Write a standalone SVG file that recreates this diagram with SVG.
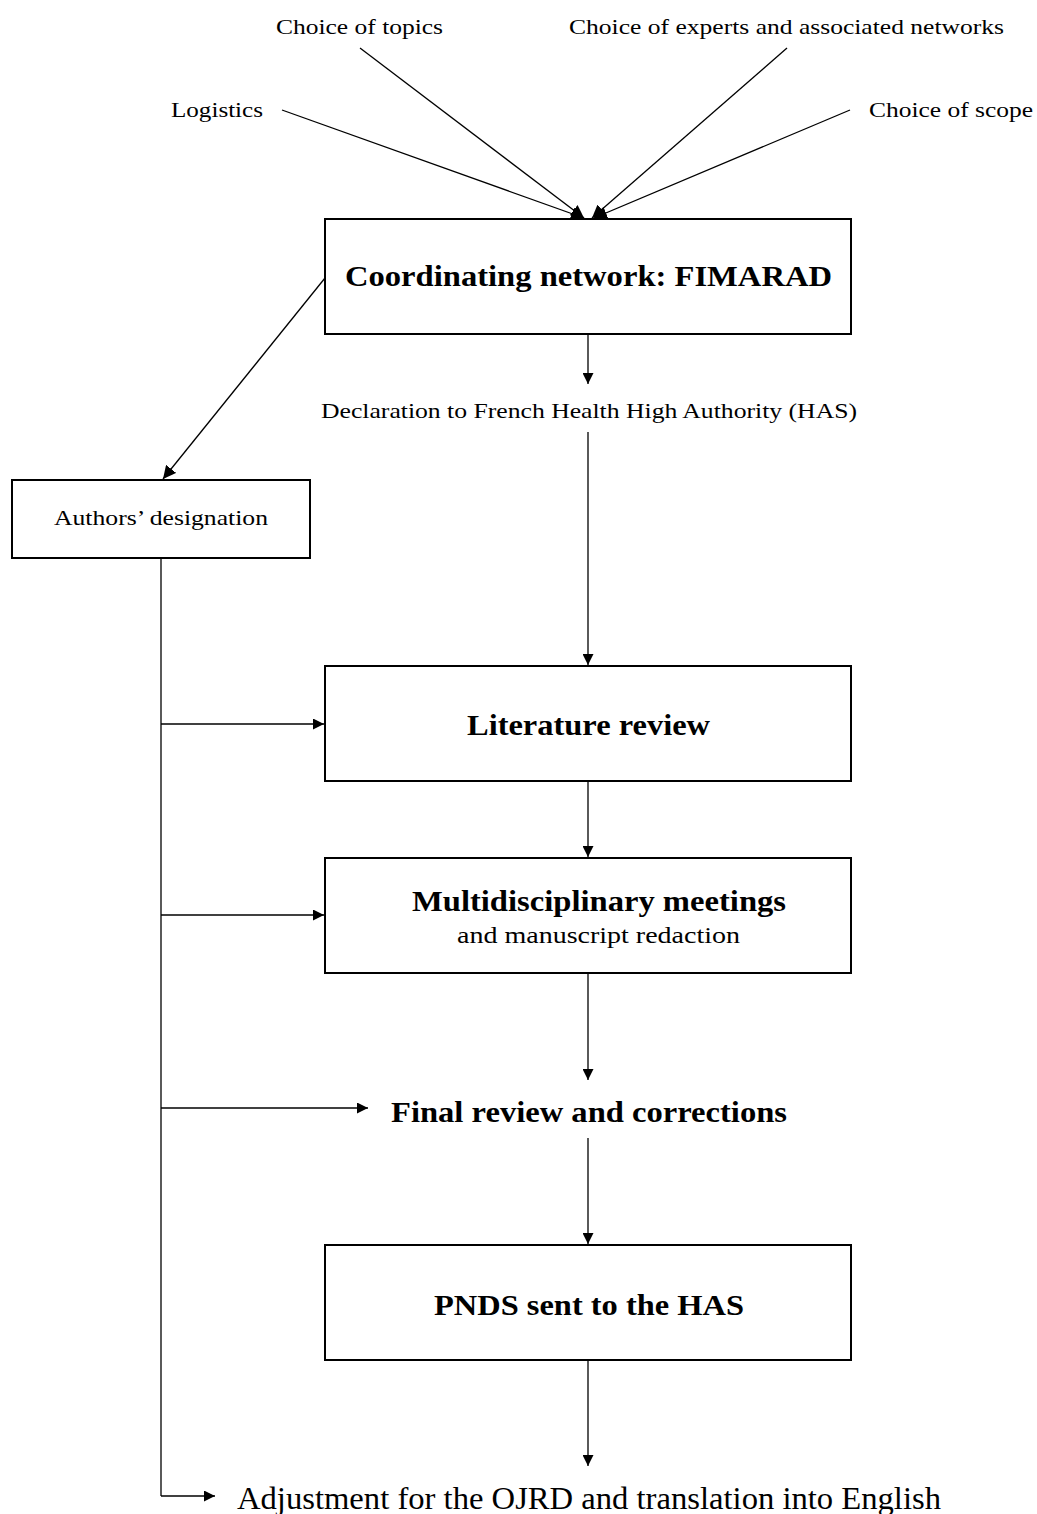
<svg xmlns="http://www.w3.org/2000/svg" width="1037" height="1514" viewBox="0 0 1037 1514">
<style>
.box{fill:#fff;stroke:#000;stroke-width:2}
.t{font-family:"Liberation Serif","Times New Roman",serif;fill:#000;text-anchor:middle}
.b{font-weight:bold;font-size:30px}
.s{font-size:22px}
.c line, .c polyline{stroke:#000;stroke-width:1.3;fill:none}
</style>
<defs>
<marker id="ah" viewBox="0 0 10 10" refX="10" refY="5" markerWidth="11" markerHeight="11" markerUnits="userSpaceOnUse" orient="auto">
<path d="M0,0 L10,5 L0,10 z" fill="#000"/>
</marker>
<marker id="ahL" viewBox="0 0 12 12" refX="12" refY="6" markerWidth="13" markerHeight="13" markerUnits="userSpaceOnUse" orient="auto">
<path d="M0,0 L12,6 L0,12 z" fill="#000"/>
</marker>
</defs>
<g id="lbl-topics"><text class="t s" x="359.5" y="34" textLength="167" lengthAdjust="spacingAndGlyphs">Choice of topics</text></g>
<g id="lbl-experts"><text class="t s" x="786.5" y="34" textLength="435" lengthAdjust="spacingAndGlyphs">Choice of experts and associated networks</text></g>
<g id="lbl-logistics"><text class="t s" x="217" y="117" textLength="92" lengthAdjust="spacingAndGlyphs">Logistics</text></g>
<g id="lbl-scope"><text class="t s" x="951" y="117" textLength="164" lengthAdjust="spacingAndGlyphs">Choice of scope</text></g>
<g class="c" id="connectors">
<line x1="360" y1="48" x2="584" y2="218" marker-end="url(#ahL)"/>
<line x1="282" y1="110" x2="584" y2="218" marker-end="url(#ahL)"/>
<line x1="787" y1="48" x2="592" y2="218" marker-end="url(#ahL)"/>
<line x1="850" y1="110" x2="594" y2="218" marker-end="url(#ahL)"/>
<line x1="588" y1="335" x2="588" y2="384" marker-end="url(#ah)"/>
<line x1="588" y1="432" x2="588" y2="665" marker-end="url(#ah)"/>
<line x1="325" y1="278" x2="163" y2="479" marker-end="url(#ahL)"/>
<line x1="588" y1="781" x2="588" y2="857" marker-end="url(#ah)"/>
<line x1="588" y1="974" x2="588" y2="1080" marker-end="url(#ah)"/>
<line x1="588" y1="1138" x2="588" y2="1244" marker-end="url(#ah)"/>
<line x1="588" y1="1361" x2="588" y2="1466" marker-end="url(#ah)"/>
<line x1="161" y1="559" x2="161" y2="1496"/>
<line x1="161" y1="724" x2="324" y2="724" marker-end="url(#ah)"/>
<line x1="161" y1="915" x2="324" y2="915" marker-end="url(#ah)"/>
<line x1="161" y1="1108" x2="368" y2="1108" marker-end="url(#ah)"/>
<polyline points="161,1496 215,1496" marker-end="url(#ah)"/>
</g>
<g id="coord"><rect class="box" x="325" y="219" width="526" height="115"/><text class="t b" x="588.5" y="286" textLength="487" lengthAdjust="spacingAndGlyphs">Coordinating network: FIMARAD</text></g>
<g id="declaration"><text class="t s" x="589" y="418" textLength="536" lengthAdjust="spacingAndGlyphs">Declaration to French Health High Authority (HAS)</text></g>
<g id="authors"><rect class="box" x="12" y="480" width="298" height="78"/><text class="t s" x="161" y="525" textLength="214" lengthAdjust="spacingAndGlyphs">Authors’ designation</text></g>
<g id="literature"><rect class="box" x="325" y="666" width="526" height="115"/><text class="t b" x="588.5" y="735" textLength="243" lengthAdjust="spacingAndGlyphs">Literature review</text></g>
<g id="multi"><rect class="box" x="325" y="858" width="526" height="115"/><text class="t b" x="599" y="911" textLength="374" lengthAdjust="spacingAndGlyphs">Multidisciplinary meetings</text><text class="t" style="font-size:24px" x="598.5" y="943" textLength="283" lengthAdjust="spacingAndGlyphs">and manuscript redaction</text></g>
<g id="final"><text class="t b" x="589" y="1122" textLength="396" lengthAdjust="spacingAndGlyphs">Final review and corrections</text></g>
<g id="pnds"><rect class="box" x="325" y="1245" width="526" height="115"/><text class="t b" x="589" y="1315" textLength="310" lengthAdjust="spacingAndGlyphs">PNDS sent to the HAS</text></g>
<g id="adjust"><text class="t" style="font-size:31px" x="589" y="1509" textLength="704" lengthAdjust="spacingAndGlyphs">Adjustment for the OJRD and translation into English</text></g>
</svg>
